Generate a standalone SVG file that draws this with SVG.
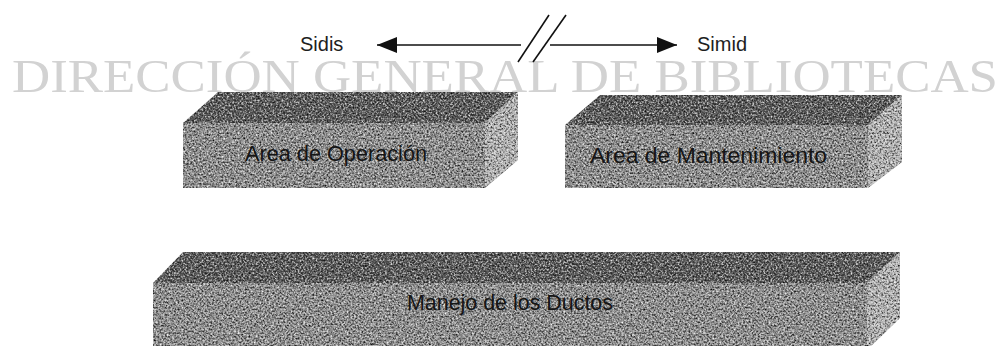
<svg xmlns="http://www.w3.org/2000/svg" width="1002" height="346" viewBox="0 0 1002 346">
<style>
.wm{font-family:"Liberation Serif","Times New Roman",serif;font-size:46px;fill:#d2d2d2}
.lbl{font-family:"Liberation Sans",Arial,sans-serif;font-size:20px;fill:#1e1e1e}
.blbl{font-family:"Liberation Sans",Arial,sans-serif;font-size:22px;fill:#151515}
.front{fill:#8e8e8e}
.top{fill:#5a5a5a}
.side{fill:#b2b2b2}
.conn{stroke:#111;stroke-width:1.6;fill:none}
</style>
<defs>
<marker id="ah" markerUnits="userSpaceOnUse" markerWidth="21" markerHeight="17" refX="20" refY="8" orient="auto">
<path d="M0,0 L20,8 L0,16 z" fill="#111"/>
</marker>
<filter id="grain" x="0" y="0" width="100%" height="100%" color-interpolation-filters="sRGB">
<feTurbulence type="fractalNoise" baseFrequency="0.55" numOctaves="2" seed="7" result="n"/>
<feColorMatrix in="n" type="matrix" values="1 0 0 0 0  1 0 0 0 0  1 0 0 0 0  0 0 0 0 1" result="g"/>
<feComponentTransfer in="g" result="gc">
<feFuncR type="linear" slope="1.2" intercept="-0.1"/>
<feFuncG type="linear" slope="1.2" intercept="-0.1"/>
<feFuncB type="linear" slope="1.2" intercept="-0.1"/>
</feComponentTransfer>
<feBlend in="gc" in2="SourceGraphic" mode="hard-light" result="b"/>
<feComposite in="b" in2="SourceAlpha" operator="in"/>
</filter>
</defs>
<rect width="1002" height="346" fill="#ffffff"/>
<text class="wm" x="12" y="92" textLength="986" lengthAdjust="spacingAndGlyphs">DIRECCIÓN GENERAL DE BIBLIOTECAS</text>

<g id="connectors">
<line class="conn" x1="521" y1="45" x2="377" y2="45" marker-end="url(#ah)"/>
<line class="conn" x1="550" y1="45" x2="677" y2="45" marker-end="url(#ah)"/>
<line class="conn" x1="518" y1="62" x2="549" y2="15"/>
<line class="conn" x1="533" y1="62" x2="566" y2="15"/>
</g>

<g id="sidis"><text class="lbl" x="300" y="51">Sidis</text></g>
<g id="simid"><text class="lbl" x="697" y="51">Simid</text></g>

<g id="area-operacion">
<g filter="url(#grain)">
<polygon class="top" points="183,123 218,92 518,92 485,123"/>
<polygon class="side" points="485,123 518,92 518,160 485,188"/>
<rect class="front" x="183" y="123" width="302" height="65"/>
</g>
<text class="blbl" x="245" y="161" textLength="182" lengthAdjust="spacingAndGlyphs">Area de Operación</text>
</g>

<g id="area-mantenimiento">
<g filter="url(#grain)">
<polygon class="top" points="565,125 600,95 902,95 868,125"/>
<polygon class="side" points="868,125 902,95 902,162 868,188"/>
<rect class="front" x="565" y="125" width="303" height="63"/>
</g>
<text class="blbl" x="590" y="163" textLength="237" lengthAdjust="spacingAndGlyphs">Area de Mantenimiento</text>
</g>

<g id="manejo-ductos">
<g filter="url(#grain)">
<polygon class="top" points="153,283 183,252 900,252 867,283"/>
<polygon class="side" points="867,283 900,252 900,318 867,350"/>
<rect class="front" x="153" y="283" width="714" height="70"/>
</g>
<text class="blbl" x="407" y="310" textLength="206" lengthAdjust="spacingAndGlyphs">Manejo de los Ductos</text>
</g>
</svg>
